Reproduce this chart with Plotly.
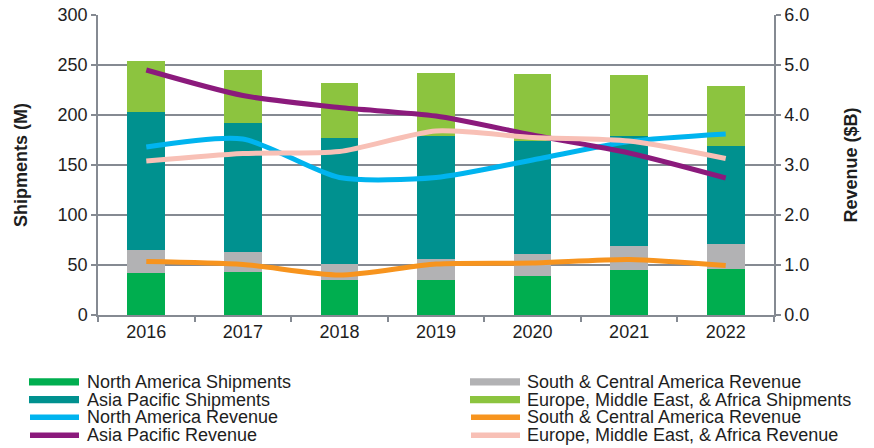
import plotly.graph_objects as go

# ---------------- data ----------------
years = ["2016", "2017", "2018", "2019", "2020", "2021", "2022"]

na_shipments = [42.0, 43.4, 34.7, 34.7, 39.1, 44.7, 46.1]
sca_shipments = [22.7, 19.6, 16.4, 21.4, 22.3, 24.0, 25.0]
ap_shipments = [138.3, 129.2, 126.4, 123.4, 113.1, 110.5, 98.1]
emea_shipments = [50.8, 53.2, 54.3, 62.9, 66.6, 60.9, 59.9]

na_revenue = [3.36, 3.52, 2.75, 2.75, 3.10, 3.47, 3.62]
ap_revenue = [4.90, 4.39, 4.15, 3.98, 3.60, 3.24, 2.74]
sca_revenue = [1.07, 1.01, 0.80, 1.02, 1.04, 1.11, 0.99]
emea_revenue = [3.08, 3.23, 3.27, 3.68, 3.55, 3.48, 3.13]

left_ticks = [0, 50, 100, 150, 200, 250, 300]
right_ticks = [0, 1, 2, 3, 4, 5, 6]

# ---------------- styles ----------------
FONT = "Liberation Sans, Arial, sans-serif"
TXT = "#1e1e1e"
GRID = "#858a92"
C_NA_S = "#00AE4F"
C_AP_S = "#00918F"
C_SCA_S = "#B2B2B4"
C_EMEA_S = "#8CC43F"
C_NA_R = "#00B4EF"
C_AP_R = "#8B1A7C"
C_SCA_R = "#F7941E"
C_EMEA_R = "#F8C0B6"

W, H = 874, 448
ML, MR, MT, MB = 98, 100, 15, 132.5

fig = go.Figure()

bar_series = [
    ("North America Shipments", na_shipments, C_NA_S),
    ("South & Central America Revenue", sca_shipments, C_SCA_S),
    ("Asia Pacific Shipments", ap_shipments, C_AP_S),
    ("Europe, Middle East, & Africa Shipments", emea_shipments, C_EMEA_S),
]
for name, vals, col in bar_series:
    fig.add_trace(go.Bar(x=years, y=vals, name=name, marker=dict(color=col, line=dict(width=0)),
                         showlegend=False, yaxis="y"))

line_series = [
    ("North America Revenue", na_revenue, C_NA_R),
    ("Asia Pacific Revenue", ap_revenue, C_AP_R),
    ("South & Central America Revenue", sca_revenue, C_SCA_R),
    ("Europe, Middle East, & Africa Revenue", emea_revenue, C_EMEA_R),
]
for name, vals, col in line_series:
    fig.add_trace(go.Scatter(x=years, y=vals, name=name, mode="lines",
                             line=dict(color=col, width=5, shape="spline", smoothing=0.7),
                             showlegend=False, yaxis="y2"))

fig.update_layout(
    width=W, height=H,
    margin=dict(l=ML, r=MR, t=MT, b=MB, autoexpand=False),
    paper_bgcolor="white", plot_bgcolor="white",
    barmode="stack", bargap=0.61,
    font=dict(family=FONT, size=18, color=TXT),
    showlegend=False,
    xaxis=dict(type="category", showline=True, linecolor=GRID, linewidth=1.5,
               ticks="outside", tickson="boundaries", ticklen=5, tickcolor=GRID, tickwidth=1.5,
               showgrid=False, tickfont=dict(size=18, color=TXT)),
    yaxis=dict(range=[0, 300.01], tickvals=left_ticks, showline=True, linecolor=GRID, linewidth=1.5,
               ticks="outside", ticklen=5, tickcolor=GRID, tickwidth=1.5, ticklabeloverflow="allow",
               showgrid=True, gridcolor=GRID, gridwidth=1.5, zeroline=False,
               tickfont=dict(size=18, color=TXT),
               title=dict(text="<b>Shipments (M)</b>", font=dict(size=18, color=TXT), standoff=25)),
    yaxis2=dict(range=[0, 6.0002], tickvals=right_ticks, tickformat=".1f", overlaying="y", side="right",
                showline=True, linecolor=GRID, linewidth=1.5, ticklabeloverflow="allow",
                ticks="outside", ticklen=5, tickcolor=GRID, tickwidth=1.5,
                showgrid=False, zeroline=False, tickfont=dict(size=18, color=TXT),
                title=dict(text="<b>Revenue ($B)</b>", font=dict(size=18, color=TXT), standoff=36)),
)

# ---------------- manual legend (positions in page pixels) ----------------
PW = W - ML - MR
PH = H - MT - MB


def px_x(px):
    return (px - ML) / PW


def px_y(py):
    return (H - MB - py) / PH


legend_cols = [
    (29, 86, [("bar", bar_series[0]), ("bar", bar_series[2]), ("line", line_series[0]), ("line", line_series[1])]),
    (470, 526, [("bar", bar_series[1]), ("bar", bar_series[3]), ("line", line_series[2]), ("line", line_series[3])]),
]
row_y = [382.5, 400.3, 418.0, 436.0]

for sx, tx, items in legend_cols:
    for (kind, (name, _vals, col)), ry in zip(items, row_y):
        if kind == "bar":
            fig.add_shape(type="rect", xref="paper", yref="paper",
                          x0=px_x(sx), x1=px_x(sx + 50), y0=px_y(ry - 3.7), y1=px_y(ry + 3.7),
                          fillcolor=col, line=dict(width=0), layer="above")
        else:
            fig.add_shape(type="line", xref="paper", yref="paper",
                          x0=px_x(sx + 1), x1=px_x(sx + 50), y0=px_y(ry), y1=px_y(ry),
                          line=dict(color=col, width=5.5), layer="above")
        fig.add_annotation(xref="paper", yref="paper", x=px_x(tx), y=px_y(ry),
                           xanchor="left", yanchor="middle", showarrow=False,
                           text=name, font=dict(family=FONT, size=18, color=TXT),
                           borderpad=0)

fig.write_html("out.html", config={"displayModeBar": False},
               post_script="document.body.style.margin='0';document.body.style.overflow='hidden';")
